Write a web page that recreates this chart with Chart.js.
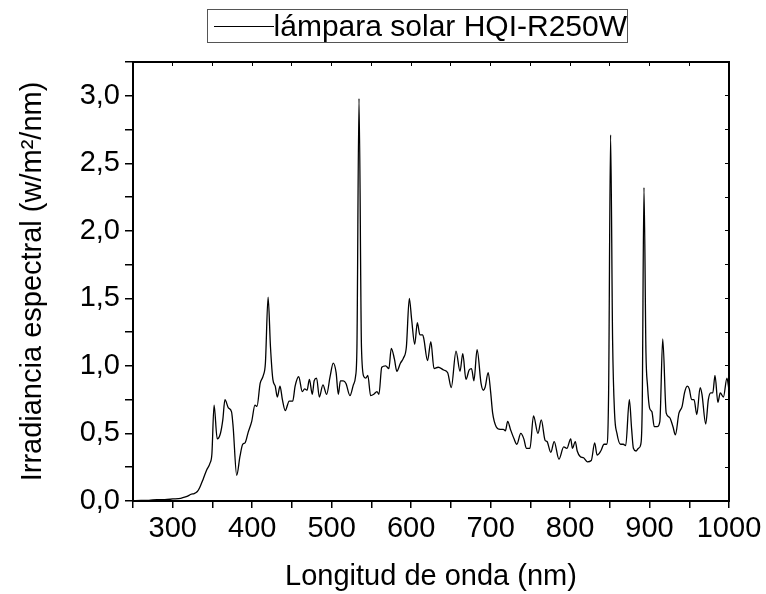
<!DOCTYPE html>
<html>
<head>
<meta charset="utf-8">
<script src="https://cdn.jsdelivr.net/npm/chart.js"></script>
<style>
  html, body { margin: 0; padding: 0; background: #fff; }
  #wrap { position: relative; width: 766px; height: 594px; }
  #legendBox {
    position: absolute; left: 207px; top: 9px; width: 419px; height: 32px;
    border: 1px solid #555; background: #fff;
    font-family: "Liberation Sans", Arial, sans-serif; font-size: 30px; color: #000;
    display: flex; align-items: center; white-space: nowrap;
  }
  #legendBox .sample { display: inline-block; width: 66px; height: 0; border-top: 1.3px solid #000; margin-left: 6px; }
</style>
</head>
<body>
<div id="wrap">
  <canvas id="spectrumChart" width="766" height="594"></canvas>
  <div id="legendBox"><span class="sample"></span><span id="legendLabel"></span></div>
</div>
<script>
const seriesName = 'lámpara solar HQI-R250W';
const xTitle = 'Longitud de onda (nm)';
const yTitle = 'Irradiancia espectral (w/m²/nm)';

// longitud de onda (nm)
const wavelengths = [
  250, 260, 270, 280, 290, 300, 310, 316, 320, 323, 327, 331, 334, 338.5, 342.7, 346.9, 349.3,
  352, 356, 360, 363, 365.7, 370, 374, 376, 380.5, 384.6, 388, 391, 395, 399.4, 403.5, 406,
  410, 414, 416.6, 420, 423, 426, 429, 431.6, 435, 438, 441.6, 446.6, 451, 454, 458.5, 463,
  466, 469, 472, 475.6, 478, 481, 484.5, 489, 493.7, 498, 502, 505.6, 508.4, 511, 514.6, 518,
  523, 527.3, 530, 531.8, 534.4, 537.5, 540.6, 543, 545.5, 549, 553, 557, 559.5, 563, 568,
  572, 575, 579, 582, 586.5, 590.5, 594, 597.7, 600.7, 604.5, 607.8, 611, 614.6, 616, 620.6,
  624.8, 628.8, 634, 641, 646, 650.5, 656.5, 661.5, 665, 669, 673, 676, 679, 683, 688, 690.8,
  693, 697, 700, 702.6, 707, 712, 716, 718.6, 721.5, 725, 729.5, 733, 738, 741.8, 745, 749.5,
  754, 759.6, 763.8, 768.5, 771, 775.8, 780, 786, 792, 796, 800.8, 803, 806.6, 809, 812.7,
  817, 821.7, 826.7, 831, 834, 838.6, 842.8, 846, 848.5, 851, 853.5, 856, 859, 863.5, 867,
  870, 874.6, 877.5, 879.7, 883, 886, 889, 890.8, 893, 895.5, 897.5, 900, 903, 906, 909.6,
  913, 916.6, 921, 925, 929.5, 932.5, 937, 941, 944, 947.5, 950, 953, 956, 959.5, 963.7,
  966, 970.7, 974, 977, 979.6, 982.4, 986, 989, 993, 997.4, 1000
];

// irradiancia espectral (w/m2/nm)
const irradiance = [
  0.00, 0.005, 0.005, 0.01, 0.01, 0.015, 0.02, 0.03, 0.04, 0.05, 0.055, 0.07, 0.10, 0.165, 0.23, 0.28, 0.35,
  0.71, 0.46, 0.50, 0.60, 0.75, 0.69, 0.66, 0.55, 0.19, 0.33, 0.42, 0.43, 0.51, 0.59, 0.71, 0.70,
  0.87, 0.93, 1.02, 1.51, 1.14, 0.90, 0.85, 0.77, 0.85, 0.75, 0.67, 0.74, 0.74, 0.85, 0.92, 0.81,
  0.83, 0.82, 0.90, 0.79, 0.89, 0.91, 0.77, 0.86, 0.79, 0.92, 1.02, 0.95, 0.79, 0.89, 0.89, 0.87,
  0.78, 0.86, 0.92, 1.14, 2.98, 1.14, 0.92, 0.91, 0.93, 0.78, 0.79, 0.81, 0.79, 0.99, 1.00,
  0.98, 1.13, 1.05, 0.96, 1.02, 1.06, 1.14, 1.50, 1.34, 1.16, 1.32, 1.23, 1.23, 1.20, 1.04,
  1.18, 0.98, 0.99, 0.97, 0.95, 0.84, 1.11, 0.96, 1.09, 0.90, 0.97, 0.98, 0.89, 1.12, 0.87, 0.82,
  0.84, 0.95, 0.81, 0.65, 0.55, 0.53, 0.53, 0.52, 0.59, 0.53, 0.46, 0.42, 0.50, 0.46, 0.39, 0.39,
  0.63, 0.50, 0.60, 0.45, 0.44, 0.36, 0.44, 0.31, 0.40, 0.39, 0.46, 0.39, 0.44, 0.37, 0.33,
  0.32, 0.29, 0.30, 0.43, 0.34, 0.37, 0.42, 0.42, 0.80, 2.71, 1.20, 0.65, 0.50, 0.42, 0.42,
  0.41, 0.75, 0.53, 0.39, 0.37, 0.39, 0.42, 0.70, 2.32, 1.10, 0.85, 0.69, 0.66, 0.55, 0.55,
  0.59, 1.20, 0.65, 0.62, 0.55, 0.49, 0.65, 0.70, 0.80, 0.85, 0.83, 0.75, 0.75, 0.64, 0.84,
  0.79, 0.57, 0.75, 0.80, 0.80, 0.93, 0.73, 0.80, 0.77, 0.91, 0.82
];

const X_MIN = 250, X_MAX = 1000;
const Y_MIN = 0, Y_MAX = 3.25;

document.getElementById('legendLabel').textContent = seriesName;

const points = wavelengths.map((w, i) => ({ x: w, y: irradiance[i] }));

const tickFont = { family: '"Liberation Sans", Arial, sans-serif', size: 29 };
const axisColor = '#000';

const data = {
  datasets: [{
    label: seriesName,
    data: points,
    borderColor: '#000',
    borderWidth: 1.3,
    pointRadius: 0,
    cubicInterpolationMode: 'monotone',
    fill: false
  }]
};

const options = {
  responsive: false,
  animation: false,
  layout: { padding: 0 },
  plugins: {
    legend: { display: false },
    tooltip: { enabled: false }
  },
  scales: {
    x: {
      type: 'linear',
      position: 'bottom',
      min: X_MIN,
      max: X_MAX,
      afterFit: s => { s.height = 93; },
      border: { color: axisColor, width: 2 },
      grid: { drawOnChartArea: false, color: axisColor, tickLength: 7, lineWidth: 1.5 },
      ticks: {
        stepSize: 50,
        autoSkip: false,
        maxRotation: 0,
        color: '#000',
        font: tickFont,
        padding: 4,
        callback: v => (v % 100 === 0 ? String(v) : '')
      },
      title: {
        display: true,
        text: xTitle,
        color: '#000',
        font: tickFont,
        padding: 0
      }
    },
    // marco superior y derecho con marcas hacia dentro
    x2: {
      type: 'linear',
      position: 'top',
      min: X_MIN,
      max: X_MAX,
      afterFit: s => { s.height = 62; },
      border: { color: axisColor, width: 2 },
      grid: { drawOnChartArea: false, color: axisColor, tickLength: -4 },
      ticks: { stepSize: 50, display: false }
    },
    y: {
      position: 'left',
      min: Y_MIN,
      max: Y_MAX,
      afterFit: s => { s.width = 133; },
      border: { color: axisColor, width: 2 },
      grid: { drawOnChartArea: false, color: axisColor, tickLength: 8, lineWidth: 1.5 },
      ticks: {
        stepSize: 0.25,
        autoSkip: false,
        color: '#000',
        font: tickFont,
        padding: 5,
        callback: v => {
          const r = Math.round(v * 100) / 100;
          return Math.abs(r * 2 - Math.round(r * 2)) < 1e-6 ? r.toFixed(1).replace('.', ',') : '';
        }
      },
      title: {
        display: true,
        text: yTitle,
        color: '#000',
        font: tickFont,
        padding: { top: 16, bottom: 0 }
      }
    },
    y2: {
      position: 'right',
      min: Y_MIN,
      max: Y_MAX,
      afterFit: s => { s.width = 37; },
      border: { color: axisColor, width: 2 },
      grid: { drawOnChartArea: false, color: axisColor, tickLength: -4 },
      ticks: { stepSize: 0.25, display: false }
    }
  }
};

new Chart('spectrumChart', { type: 'line', data, options });
</script>
</body>
</html>
